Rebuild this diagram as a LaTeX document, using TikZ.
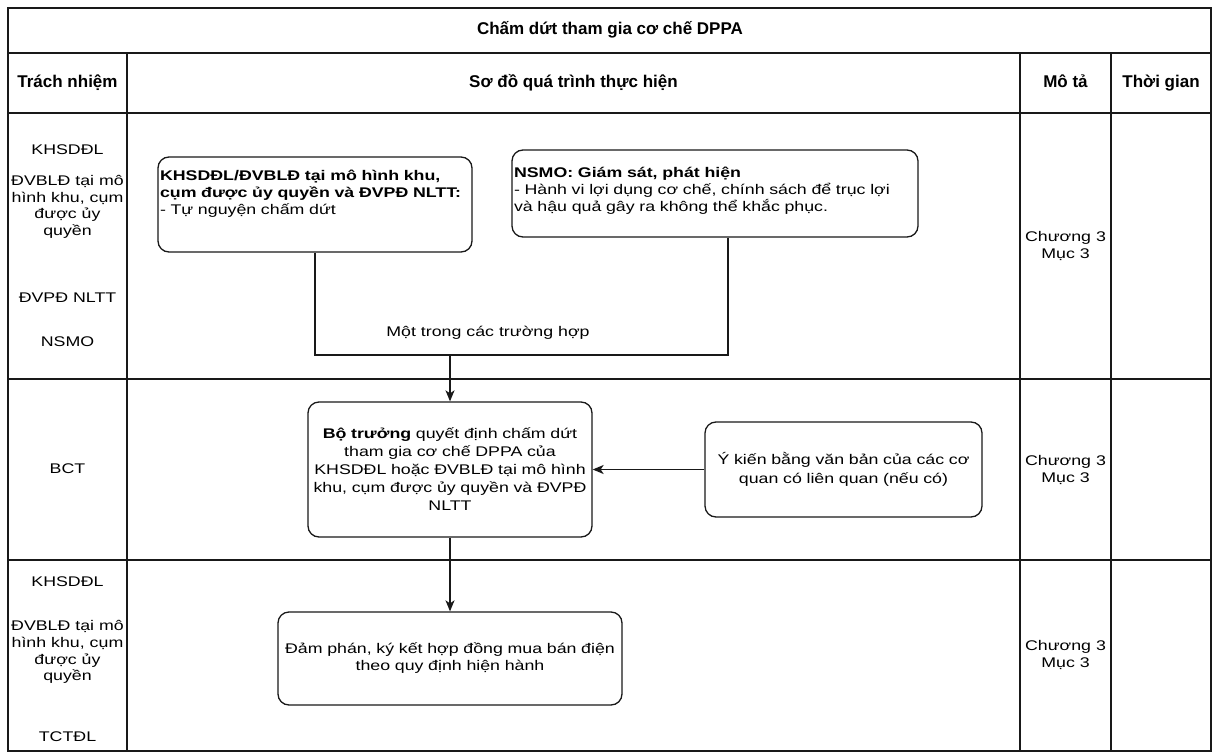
\documentclass[tikz,border=0pt]{standalone}
\usepackage{fontspec}
\setmainfont{Liberation Sans}[FakeStretch=1.27]
\newfontfamily\headfont{Liberation Sans}
\usetikzlibrary{arrows.meta}
\tikzset{
    grid-line/.style = {draw=black!90, line width=1.5pt},
    flow-box/.style = {draw=black!90, fill=white, line width=1.3pt, rectangle, rounded corners=11pt, inner xsep=2pt, inner ysep=0pt, font=\fontsize{14}{17}\selectfont},
    flow-line/.style = {draw=black!90, line width=1.3pt},
    flow-arrow/.style = {flow-line, -{Stealth[length=11pt, width=9pt, inset=3pt]}},
    lane-text/.style = {align=center, inner sep=0pt, font=\fontsize{14}{16.7}\selectfont},
    head-text/.style = {inner sep=0pt, text height=12.5pt, text depth=3.5pt, font=\headfont\bfseries\fontsize{17}{20}\selectfont},
}

\begin{document}
\begin{tikzpicture}[x=1pt, y=-1pt]
\useasboundingbox (0,0) rectangle (1214,754);
\fill[white] (0,0) rectangle (1214,754);

% table
\draw[grid-line] (8,8) rectangle (1211,751);
\draw[grid-line] (8,53) -- (1211,53);
\draw[grid-line] (8,113) -- (1211,113);
\draw[grid-line] (8,379) -- (1211,379);
\draw[grid-line] (8,560) -- (1211,560);
\draw[grid-line] (127,53) -- (127,751);
\draw[grid-line] (1020,53) -- (1020,751);
\draw[grid-line] (1111,53) -- (1111,751);

\node[head-text] (title) at (610,30.5) {Chấm dứt tham gia cơ chế DPPA};
\node[head-text] (head-resp) at (67.5,83) {Trách nhiệm};
\node[head-text] (head-flow) at (573.5,83) {Sơ đồ quá trình thực hiện};
\node[head-text] (head-desc) at (1065.5,83) {Mô tả};
\node[head-text] (head-time) at (1161,83) {Thời gian};

% responsibility column
\node[lane-text] (resp-a1) at (67.5,150) {KHSDĐL};
\node[lane-text] (resp-a2) at (67.5,207) {ĐVBLĐ tại mô\\hình khu, cụm\\được ủy\\quyền};
\node[lane-text] (resp-a3) at (67.5,298) {ĐVPĐ NLTT};
\node[lane-text] (resp-a4) at (67.5,342) {NSMO};
\node[lane-text] (resp-b1) at (67.5,469) {BCT};
\node[lane-text] (resp-c1) at (67.5,582) {KHSDĐL};
\node[lane-text] (resp-c2) at (67.5,652) {ĐVBLĐ tại mô\\hình khu, cụm\\được ủy\\quyền};
\node[lane-text] (resp-c3) at (67.5,737) {TCTĐL};

% description column
\node[lane-text] (desc-a) at (1065.5,246) {Chương 3\\Mục 3};
\node[lane-text] (desc-b) at (1065.5,470) {Chương 3\\Mục 3};
\node[lane-text] (desc-c) at (1065.5,655) {Chương 3\\Mục 3};

% flow
\node[flow-box, minimum width=314pt, minimum height=95pt, text width=310pt, align=left] (volunteer) at (315,204.5) {{\bfseries KHSDĐL/ĐVBLĐ tại mô hình khu,\\cụm được ủy quyền và ĐVPĐ NLTT:}\\- Tự nguyện chấm dứt\rule[-25pt]{0pt}{25pt}};
\node[flow-box, minimum width=406pt, minimum height=87pt, text width=402pt, align=left] (monitor) at (715,193.5) {{\bfseries NSMO: Giám sát, phát hiện}\\- Hành vi lợi dụng cơ chế, chính sách để trục lợi\\và hậu quả gây ra không thể khắc phục.\rule[-8pt]{0pt}{8pt}};
\node[flow-box, minimum width=284pt, minimum height=135pt, text width=280pt, align=center, font=\fontsize{14}{18}\selectfont] (decision) at (450,469.5) {{\bfseries Bộ trưởng} quyết định chấm dứt\\tham gia cơ chế DPPA của\\KHSDĐL hoặc ĐVBLĐ tại mô hình\\khu, cụm được ủy quyền và ĐVPĐ\\NLTT};
\node[flow-box, minimum width=277pt, minimum height=95pt, text width=273pt, align=center, font=\fontsize{14}{19}\selectfont] (opinion) at (843.5,469.5) {Ý kiến bằng văn bản của các cơ\\quan có liên quan (nếu có)};
\node[flow-box, minimum width=344pt, minimum height=93pt, text width=340pt, align=center] (contract) at (450,658.5) {Đảm phán, ký kết hợp đồng mua bán điện\\theo quy định hiện hành};

\coordinate (join) at (450,355);
\draw[flow-line] (volunteer.south) |- (join);
\draw[flow-line] ([xshift=13pt]monitor.south) |- (join);
\node[lane-text] (either-case) at (488,333) {Một trong các trường hợp};
\draw[flow-arrow] (join) -- (decision.north);
\draw[flow-arrow] (opinion.west) -- (decision.east);
\draw[flow-arrow] (decision.south) -- (contract.north);
\end{tikzpicture}
\end{document}
